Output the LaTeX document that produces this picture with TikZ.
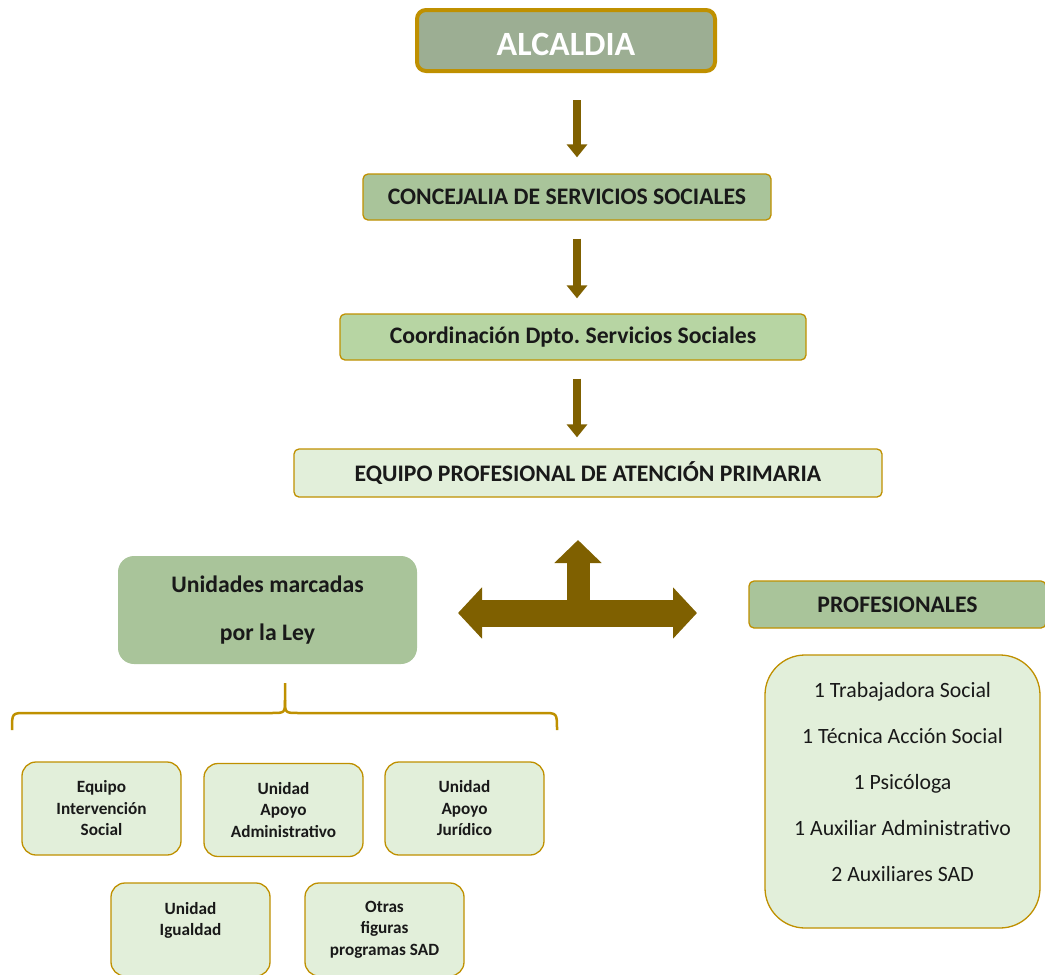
\documentclass[tikz,border=0pt]{standalone}
\usepackage{fontspec}
\setmainfont{Carlito}
\usepackage{tikz}
\usetikzlibrary{arrows.meta,positioning}
\definecolor{gold}{HTML}{BF9000}
\definecolor{bark}{HTML}{7F6000}
\definecolor{sage}{HTML}{9CAE93}
\definecolor{leaf}{HTML}{A9C49A}
\definecolor{moss}{HTML}{B7D5A3}
\definecolor{pale}{HTML}{E2EFDA}
\newcommand{\fsz}[2]{\fontsize{#1}{#2}\selectfont}
\tikzset{
  box/.style={draw=gold, line width=1.3pt, rounded corners=5pt, align=center, inner sep=0pt, text=black!90, font=\fsz{23.7}{28}\bfseries},
  topbox/.style={box, fill=sage, line width=4pt, rounded corners=9pt, text=white, font=\fsz{34}{40}\bfseries, text height=29pt, text depth=0pt, minimum width=298pt, minimum height=61pt},
  lbox/.style={box, fill=leaf},
  mbox/.style={box, fill=moss},
  pbox/.style={box, fill=pale},
  gbox/.style={box, fill=leaf, draw=none, rounded corners=16pt, font=\fsz{23.7}{48}\bfseries},
  unit/.style={box, fill=pale, rounded corners=14pt, minimum width=159pt, minimum height=93pt, font=\fsz{17.2}{21.5}\bfseries},
  listbox/.style={box, fill=pale, rounded corners=40pt},
  listtxt/.style={align=center, inner sep=0pt, text=black!90, font=\fsz{21.8}{46}},
  down/.style={-{Triangle[width=20pt,length=13pt]}, draw=bark, line width=8pt, shorten <=18pt, shorten >=15pt},
  tee/.style={{Triangle[width=50pt,length=24pt]}-{Triangle[width=50pt,length=24pt]}, draw=bark, line width=27pt},
  stem/.style={-{Triangle[width=46pt,length=23pt]}, draw=bark, line width=23pt},
  brc/.style={draw=gold, line width=2.5pt},
}
\begin{document}
\begin{tikzpicture}[x=1pt, y=-1pt]
\useasboundingbox (0,0) rectangle (1045,975);
\clip (0,0) rectangle (1045,975);
\node[topbox] (alc) at (566,40.5) {ALCALDIA};
\node[lbox, minimum width=408pt, minimum height=46pt] (conc) at (567,197) {CONCEJALIA DE SERVICIOS SOCIALES};
\node[mbox, minimum width=466pt, minimum height=46pt] (coord) at (573,337) {Coordinación Dpto.\ Servicios Sociales};
\node[pbox, minimum width=588pt, minimum height=48pt] (eq) at (588,473) {EQUIPO PROFESIONAL DE ATENCIÓN PRIMARIA};
\coordinate (ax) at (577,0);
\draw[down, shorten <=27pt, shorten >=16pt] (alc.south -| ax) -- (conc.north -| ax);
\draw[down] (conc.south -| ax) -- (coord.north -| ax);
\draw[down, shorten >=11pt] (coord.south -| ax) -- (eq.north -| ax);
\coordinate (hub) at (578,613);
\coordinate (tl) at (458,613);
\coordinate (tr) at (697,613);
\coordinate (tu) at (578,540);
\draw[tee] (tl) -- (tr);
\draw[stem] (hub) -- (tu);
\node[gbox, minimum width=299pt, minimum height=108pt] (ley) at (267.5,610) {Unidades marcadas\\por la Ley};
\node[lbox, minimum width=297pt, minimum height=47pt] (prof) at (897.5,604.5) {PROFESIONALES};
\node[listbox, minimum width=275pt, minimum height=273pt] (staff) at (902.5,791.5) {};
\node[listtxt] (stafftxt) at ([yshift=9.5pt]staff.center) {1 Trabajadora Social\\1 Técnica Acción Social\\1 Psicóloga\\1 Auxiliar Administrativo\\2 Auxiliares SAD};
\coordinate (bt) at (285,683);
\coordinate (bl) at (12,730);
\coordinate (br) at (557,730);
\draw[brc] (bl) .. controls (12,713) .. (26,713) -- (271,713) .. controls (285,713) .. (285,700) -- (bt);
\draw[brc] (br) .. controls (557,713) .. (543,713) -- (299,713) .. controls (285,713) .. (285,700);
\node[unit] (u1) at (101.5,808.5) {Equipo\\Intervención\\Social};
\node[unit] (u2) at (283.5,810) {Unidad\\Apoyo\\Administrativo};
\node[unit] (u3) at (464.5,808.5) {Unidad\\Apoyo\\Jurídico};
\node[unit] (u4) at (190.5,929.5) {Unidad\\Igualdad\\\mbox{}};
\node[unit] (u5) at (384.5,929.5) {Otras\\figuras\\programas SAD};
\end{tikzpicture}
\end{document}
